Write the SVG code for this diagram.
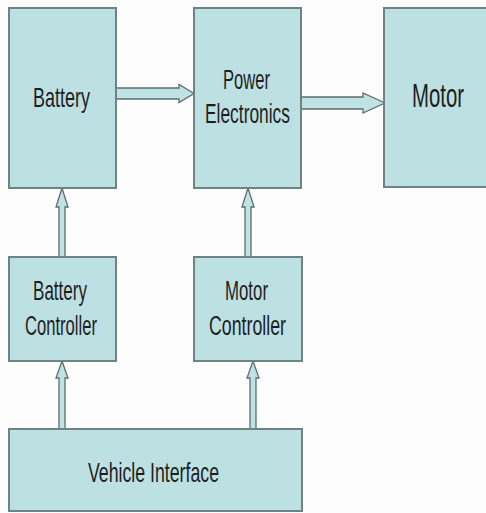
<svg xmlns="http://www.w3.org/2000/svg" width="486" height="513" viewBox="0 0 486 513">
<style>
.box{fill:#bde0e3;stroke:#6e8484;stroke-width:2}
.arr{fill:#bfe2e5;stroke:#5e6e6e;stroke-width:1.3;stroke-linejoin:miter}
.t{font-family:"Liberation Sans",Arial,sans-serif;fill:#1e1e1e}
</style>
<rect width="486" height="513" fill="#fdfdfd"/>
<g id="connectors">
<polygon class="arr" points="116,88 179,88 179,84.5 194,93.5 179,102.5 179,99 116,99"/>
<polygon class="arr" points="301,97 363,97 363,93 385,103 363,113 363,109 301,109"/>
<polygon class="arr" points="59,257 59,207 56,207 62,188 68,207 65,207 65,257"/>
<polygon class="arr" points="245,257 245,207 242,207 248,188 254,207 251,207 251,257"/>
<polygon class="arr" points="59,429 59,378 56,378 62,361 68,378 65,378 65,429"/>
<polygon class="arr" points="250,429 250,378 247,378 253,361 259,378 256,378 256,429"/>
</g>
<g id="battery">
<rect class="box" x="9" y="8" width="107" height="180"/>
<text class="t" font-size="27" transform="translate(33,107) scale(0.667,1)">Battery</text>
</g>
<g id="power-electronics">
<rect class="box" x="194" y="8" width="107" height="180"/>
<text class="t" font-size="28" transform="translate(223,89) scale(0.592,1)">Power</text>
<text class="t" font-size="28" transform="translate(205,123) scale(0.621,1)">Electronics</text>
</g>
<g id="motor">
<rect class="box" x="384" y="8" width="110" height="179"/>
<text class="t" font-size="33" transform="translate(412,107) scale(0.617,1)">Motor</text>
</g>
<g id="battery-controller">
<rect class="box" x="9" y="257" width="107" height="104"/>
<text class="t" font-size="27" transform="translate(33,300) scale(0.632,1)">Battery</text>
<text class="t" font-size="27" transform="translate(25,335) scale(0.615,1)">Controller</text>
</g>
<g id="motor-controller">
<rect class="box" x="194" y="257" width="108" height="104"/>
<text class="t" font-size="27" transform="translate(225,300) scale(0.623,1)">Motor</text>
<text class="t" font-size="27" transform="translate(209,335) scale(0.658,1)">Controller</text>
</g>
<g id="vehicle-interface">
<rect class="box" x="9" y="429" width="293" height="82"/>
<text class="t" font-size="28" transform="translate(88,482) scale(0.633,1)">Vehicle Interface</text>
</g>
</svg>
